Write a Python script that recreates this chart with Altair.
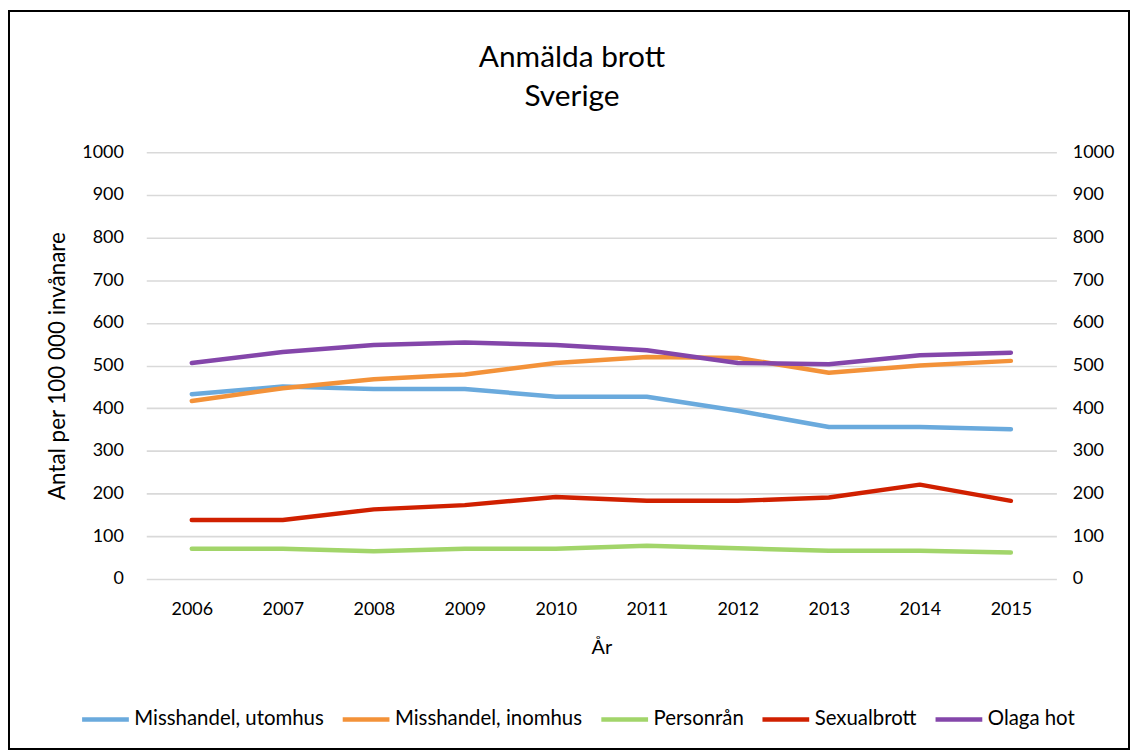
import altair as alt
import pandas as pd

years = ["2006", "2007", "2008", "2009", "2010", "2011", "2012", "2013", "2014", "2015"]
utomhus = [433, 451, 445, 445, 427, 427, 394, 356, 356, 351]
inomhus = [417, 447, 468, 479, 506, 520, 518, 483, 500, 511]
personran = [71, 71, 65, 71, 71, 78, 72, 66, 66, 62]
sexualbrott = [138, 138, 163, 173, 192, 183, 183, 191, 221, 183]
olaga_hot = [506, 532, 548, 554, 548, 536, 506, 503, 524, 530]

series_names = ["Misshandel, utomhus", "Misshandel, inomhus", "Personrån", "Sexualbrott", "Olaga hot"]
series_values = [utomhus, inomhus, personran, sexualbrott, olaga_hot]
colors = ["#6AAADD", "#F39239", "#A2D56A", "#D02000", "#8446AA"]
title_lines = ["Anmälda brott", "Sverige"]

rows = []
for name, vals in zip(series_names, series_values):
    for y, v in zip(years, vals):
        rows.append({"År": y, "Värde": v, "Serie": name})
df = pd.DataFrame(rows)

FONT = "Lato"
W, H = 915, 429

x_axis = alt.Axis(title="År", labelAngle=0, domain=False, ticks=False,
                  labelPadding=22, titlePadding=19, grid=False,
                  labelFontSize=18, titleFontSize=20, titleFontWeight="normal")
x_enc = alt.X("År:O", sort=years, scale=alt.Scale(type="point", padding=0.5), axis=x_axis)
y_scale = alt.Scale(domain=[0, 1000], nice=False)

lines = alt.Chart(df).mark_line(strokeWidth=4.5, strokeCap="round", strokeJoin="round").encode(
    x=x_enc,
    y=alt.Y("Värde:Q", scale=y_scale,
            axis=alt.Axis(title="Antal per 100 000 invånare", values=list(range(0, 1001, 100)),
                          format="d", domain=False, ticks=False, labelPadding=23, titlePadding=12,
                          grid=True, gridColor="#d9d9d9", gridWidth=1.6,
                          labelFontSize=18, titleFontSize=22.5, titleFontWeight="normal")),
    color=alt.Color("Serie:N", sort=series_names,
                    scale=alt.Scale(domain=series_names, range=colors),
                    legend=alt.Legend(title=None, orient="none", legendX=-67, legendY=544,
                                      direction="horizontal", columns=5,
                                      symbolType="stroke", symbolStrokeWidth=4.5,
                                      symbolSize=2209, labelFontSize=20.5, labelOffset=3,
                                      labelLimit=400, columnPadding=9, padding=0)),
)

right_axis = alt.Chart(df).mark_line(strokeOpacity=0).encode(
    x=x_enc,
    y=alt.Y("Värde:Q", scale=y_scale,
            axis=alt.Axis(title=None, orient="right", values=list(range(0, 1001, 100)),
                          format="d", domain=False, ticks=False, labelPadding=16, grid=False,
                          labelFontSize=18)),
    detail="Serie:N",
)

title1 = alt.Chart(pd.DataFrame({"t": [title_lines[0]]})).mark_text(
    fontSize=30, font=FONT, color="black", align="center", baseline="middle"
).encode(text="t:N", x=alt.value(428), y=alt.value(-95))

title2 = alt.Chart(pd.DataFrame({"t": [title_lines[1]]})).mark_text(
    fontSize=30, font=FONT, color="black", align="center", baseline="middle"
).encode(text="t:N", x=alt.value(428), y=alt.value(-55))

frame = alt.Chart(pd.DataFrame({"f": [0]})).mark_rect(fill=None, stroke="black", strokeWidth=2).encode(
    x=alt.value(-138), x2=alt.value(W + 73), y=alt.value(-142), y2=alt.value(H + 171)
)

chart = alt.layer(lines, right_axis, title1, title2, frame).resolve_axis(y="independent").properties(
    width=W, height=H,
    autosize=alt.AutoSizeParams(type="none"),
    padding={"left": 139, "top": 143, "right": 74, "bottom": 172},
).configure(font=FONT).configure_axis(
    labelFont=FONT, titleFont=FONT, labelColor="black", titleColor="black"
).configure_legend(labelFont=FONT, labelColor="black").configure_view(stroke=None)

chart.save("out.html", embed_options={"renderer": "svg", "actions": False})
